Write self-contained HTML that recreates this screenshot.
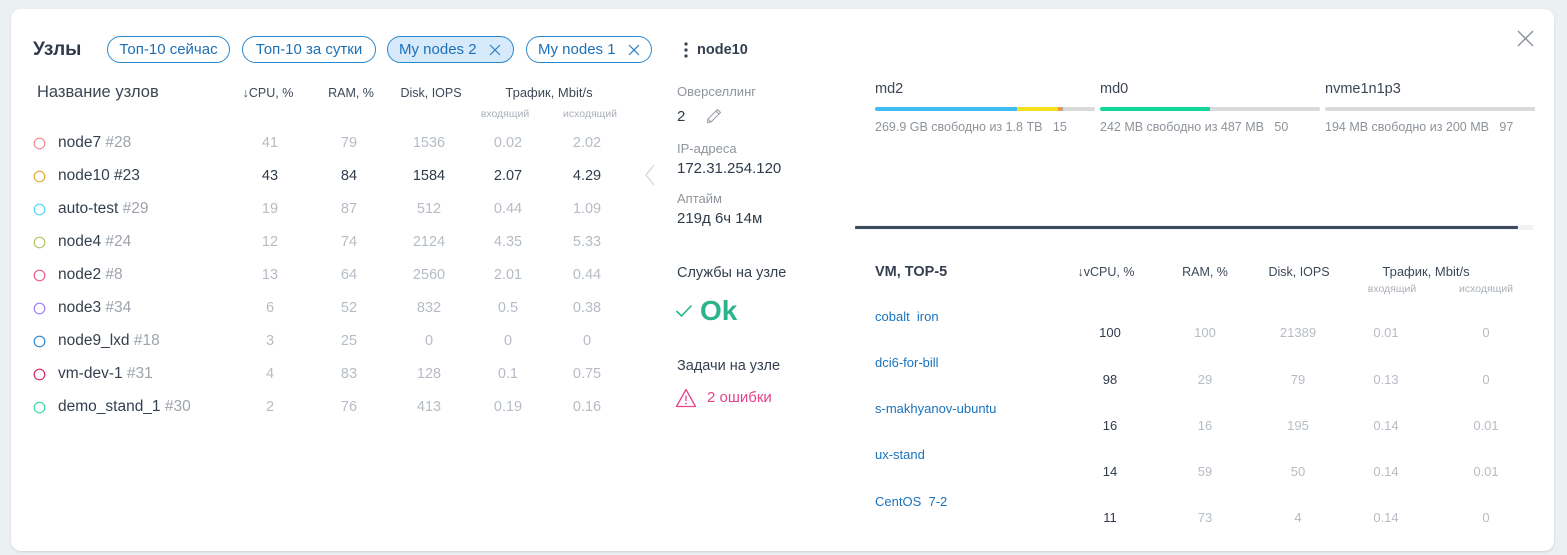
<!DOCTYPE html>
<html><head><meta charset="utf-8">
<style>
html,body{margin:0;padding:0;}
body{width:1567px;height:555px;background:#ebf0f3;position:relative;overflow:hidden;font-family:"Liberation Sans","DejaVu Sans",sans-serif;color:#323f4e;}
.card{position:absolute;left:11px;top:9px;width:1543px;height:542px;background:#fff;border-radius:10px;box-shadow:0 1px 2px rgba(0,0,0,0.13);}
.t{position:absolute;white-space:nowrap;line-height:20px;height:20px;}
.v{position:absolute;white-space:nowrap;line-height:20px;height:20px;width:80px;text-align:center;font-size:14.5px;color:#b6bcc5;}
.nm{font-size:15.5px;color:#34404f;left:58px;}
.nm span{color:#9ea4ac;}
.h{font-size:12.5px;color:#3d4958;}
.sub{font-size:10.5px;color:#aab0b8;}
.chip{position:absolute;top:36px;height:25px;border:1.3px solid #2a88cc;border-radius:14px;color:#1c70b6;font-size:15px;line-height:25px;white-space:nowrap;}
.lbl{font-size:13px;color:#8f959c;left:677px;}
.val{font-size:15px;color:#2f3b4a;left:677px;}
.dn{font-size:14.5px;color:#3a4654;}
.ds{font-size:12.5px;color:#8e949b;}
.bar{position:absolute;height:4px;top:107px;border-radius:2px;background:#dadada;overflow:hidden;}
.bar i{position:absolute;top:0;height:4px;display:block;}
.vn{font-size:13px;color:#1a73bd;left:875px;}
.vv{position:absolute;white-space:nowrap;line-height:20px;height:20px;width:80px;text-align:center;font-size:13px;color:#b6bcc5;}
.v.d,.vv.d{color:#2f3b4a;}
</style></head>
<body>
<div class="card"></div>

<!-- header -->
<div class="t" style="left:33px;top:39px;line-height:22px;height:22px;font-size:19px;font-weight:bold;color:#2f3b4a;">Узлы</div>
<div class="chip" style="left:107px;width:121px;text-align:center;">Топ-10 сейчас</div>
<div class="chip" style="left:242px;width:132px;text-align:center;">Топ-10 за сутки</div>
<div class="chip" style="left:387px;width:125px;background:#d6eafb;"><span style="position:absolute;left:11px;">My nodes 2</span>
<svg style="position:absolute;left:101px;top:7px" width="12" height="12" viewBox="0 0 12 12"><path d="M1 1L11 11M11 1L1 11" stroke="#2a7fc2" stroke-width="1.2"/></svg></div>
<div class="chip" style="left:526px;width:124px;"><span style="position:absolute;left:11px;">My nodes 1</span>
<svg style="position:absolute;left:101px;top:7px" width="12" height="12" viewBox="0 0 12 12"><path d="M1 1L11 11M11 1L1 11" stroke="#2a7fc2" stroke-width="1.2"/></svg></div>

<!-- left table headers -->
<div class="t" style="left:37px;top:82px;font-size:16.5px;color:#3a4654;">Название узлов</div>
<div class="t h" style="left:218px;top:83px;width:100px;text-align:center;">↓CPU, %</div>
<div class="t h" style="left:301px;top:83px;width:100px;text-align:center;">RAM, %</div>
<div class="t h" style="left:381px;top:83px;width:100px;text-align:center;">Disk, IOPS</div>
<div class="t h" style="left:489px;top:83px;width:120px;text-align:center;font-size:13px;">Трафик, Mbit/s</div>
<div class="t sub" style="left:465px;top:104px;width:80px;text-align:center;">входящий</div>
<div class="t sub" style="left:550px;top:104px;width:80px;text-align:center;">исходящий</div>

<!-- circles -->
<svg style="position:absolute;left:0;top:0" width="60" height="420">
<g fill="none" stroke-width="1.2">
<circle cx="39.5" cy="143.5" r="5.3" stroke="#f08a8f"/>
<circle cx="39.5" cy="176.5" r="5.3" stroke="#e2aa34"/>
<circle cx="39.5" cy="209.5" r="5.3" stroke="#4fdaf2"/>
<circle cx="39.5" cy="242.5" r="5.3" stroke="#b3c35e"/>
<circle cx="39.5" cy="275.5" r="5.3" stroke="#ec5a8e"/>
<circle cx="39.5" cy="308.5" r="5.3" stroke="#a07ff5"/>
<circle cx="39.5" cy="341.5" r="5.3" stroke="#2a8ad4"/>
<circle cx="39.5" cy="374.5" r="5.3" stroke="#d22a62"/>
<circle cx="39.5" cy="407.5" r="5.3" stroke="#36d8a4"/>
</g></svg>

<!-- rows -->
<div class="t nm" style="top:133px;">node7 <span>#28</span></div>
<div class="v" style="left:230px;top:133px;">41</div><div class="v" style="left:309px;top:133px;">79</div><div class="v" style="left:389px;top:133px;">1536</div><div class="v" style="left:468px;top:133px;">0.02</div><div class="v" style="left:547px;top:133px;">2.02</div>

<div class="t nm" style="top:166px;">node10 <span style="color:#34404f">#23</span></div>
<div class="v d" style="left:230px;top:166px;">43</div><div class="v d" style="left:309px;top:166px;">84</div><div class="v d" style="left:389px;top:166px;">1584</div><div class="v d" style="left:468px;top:166px;">2.07</div><div class="v d" style="left:547px;top:166px;">4.29</div>

<div class="t nm" style="top:199px;">auto-test <span>#29</span></div>
<div class="v" style="left:230px;top:199px;">19</div><div class="v" style="left:309px;top:199px;">87</div><div class="v" style="left:389px;top:199px;">512</div><div class="v" style="left:468px;top:199px;">0.44</div><div class="v" style="left:547px;top:199px;">1.09</div>

<div class="t nm" style="top:232px;">node4 <span>#24</span></div>
<div class="v" style="left:230px;top:232px;">12</div><div class="v" style="left:309px;top:232px;">74</div><div class="v" style="left:389px;top:232px;">2124</div><div class="v" style="left:468px;top:232px;">4.35</div><div class="v" style="left:547px;top:232px;">5.33</div>

<div class="t nm" style="top:265px;">node2 <span>#8</span></div>
<div class="v" style="left:230px;top:265px;">13</div><div class="v" style="left:309px;top:265px;">64</div><div class="v" style="left:389px;top:265px;">2560</div><div class="v" style="left:468px;top:265px;">2.01</div><div class="v" style="left:547px;top:265px;">0.44</div>

<div class="t nm" style="top:298px;">node3 <span>#34</span></div>
<div class="v" style="left:230px;top:298px;">6</div><div class="v" style="left:309px;top:298px;">52</div><div class="v" style="left:389px;top:298px;">832</div><div class="v" style="left:468px;top:298px;">0.5</div><div class="v" style="left:547px;top:298px;">0.38</div>

<div class="t nm" style="top:331px;">node9_lxd <span>#18</span></div>
<div class="v" style="left:230px;top:331px;">3</div><div class="v" style="left:309px;top:331px;">25</div><div class="v" style="left:389px;top:331px;">0</div><div class="v" style="left:468px;top:331px;">0</div><div class="v" style="left:547px;top:331px;">0</div>

<div class="t nm" style="top:364px;">vm-dev-1 <span>#31</span></div>
<div class="v" style="left:230px;top:364px;">4</div><div class="v" style="left:309px;top:364px;">83</div><div class="v" style="left:389px;top:364px;">128</div><div class="v" style="left:468px;top:364px;">0.1</div><div class="v" style="left:547px;top:364px;">0.75</div>

<div class="t nm" style="top:397px;">demo_stand_1 <span>#30</span></div>
<div class="v" style="left:230px;top:397px;">2</div><div class="v" style="left:309px;top:397px;">76</div><div class="v" style="left:389px;top:397px;">413</div><div class="v" style="left:468px;top:397px;">0.19</div><div class="v" style="left:547px;top:397px;">0.16</div>

<!-- chevron -->
<svg style="position:absolute;left:643px;top:164px" width="14" height="22" viewBox="0 0 14 22"><path d="M11 1L3 11L11 21" fill="none" stroke="#d3d7dc" stroke-width="1.3"/></svg>

<!-- middle panel -->
<svg style="position:absolute;left:683px;top:41px" width="6" height="18"><circle cx="3" cy="3" r="1.6" fill="#34404f"/><circle cx="3" cy="9" r="1.6" fill="#34404f"/><circle cx="3" cy="15" r="1.6" fill="#34404f"/></svg>
<div class="t" style="left:697px;top:40px;font-size:14.5px;font-weight:bold;color:#34404f;">node10</div>

<div class="t lbl" style="top:82px;">Оверселлинг</div>
<div class="t val" style="top:107px;">2</div>
<svg style="position:absolute;left:706px;top:108px" width="16" height="16" viewBox="0 0 16 16"><g fill="none" stroke="#9aa0a7" stroke-width="1.1"><path d="M11.5 1.5L14.5 4.5L5 14L1.5 14.5L2 11Z"/><path d="M10 3L13 6"/><path d="M2 11L5 14"/></g></svg>
<div class="t lbl" style="top:139px;">IP-адреса</div>
<div class="t val" style="top:159px;">172.31.254.120</div>
<div class="t lbl" style="top:189px;">Аптайм</div>
<div class="t val" style="top:209px;">219д 6ч 14м</div>

<div class="t" style="left:677px;top:263px;font-size:14.5px;color:#34404f;">Службы на узле</div>
<svg style="position:absolute;left:675px;top:304px" width="18" height="14" viewBox="0 0 18 14"><path d="M1.5 7L6.5 12L16.5 1.5" fill="none" stroke="#2bb48a" stroke-width="1.6"/></svg>
<div class="t" style="left:700px;top:296px;height:30px;line-height:30px;font-size:28px;font-weight:bold;color:#2bb48a;">Ok</div>

<div class="t" style="left:677px;top:356px;font-size:14.5px;color:#34404f;">Задачи на узле</div>
<svg style="position:absolute;left:675px;top:388px" width="22" height="20" viewBox="0 0 22 20"><g fill="none" stroke="#e2458a" stroke-width="1.3"><path d="M11 1.5L20.5 18.5H1.5Z" stroke-linejoin="round"/><path d="M11 7.5V13"/></g><circle cx="11" cy="15.5" r="0.9" fill="#e2458a"/></svg>
<div class="t" style="left:707px;top:388px;font-size:15px;color:#e2458a;">2 ошибки</div>

<!-- disks -->
<div class="t dn" style="left:875px;top:79px;">md2</div>
<div class="bar" style="left:875px;width:220px;"><i style="left:0;width:142px;background:#40bdf6;"></i><i style="left:142px;width:41px;background:#f3e11e;"></i><i style="left:183px;width:3px;background:#f29a3e;"></i><i style="left:186px;width:2px;background:#a8a8a8;"></i></div>
<div class="t ds" style="left:875px;top:117px;">269.9 GB свободно из 1.8 TB&nbsp;&nbsp;&nbsp;15</div>

<div class="t dn" style="left:1100px;top:79px;">md0</div>
<div class="bar" style="left:1100px;width:220px;"><i style="left:0;width:110px;background:#12d69a;"></i></div>
<div class="t ds" style="left:1100px;top:117px;">242 MB свободно из 487 MB&nbsp;&nbsp;&nbsp;50</div>

<div class="t dn" style="left:1325px;top:79px;">nvme1n1p3</div>
<div class="bar" style="left:1325px;width:210px;border-radius:2px 0 0 2px;"></div>
<div class="t ds" style="left:1325px;top:117px;">194 MB свободно из 200 MB&nbsp;&nbsp;&nbsp;97</div>

<!-- scrollbar -->
<div style="position:absolute;left:855px;top:225px;width:678px;height:5px;background:#f0f2f4;"></div>
<div style="position:absolute;left:855px;top:226px;width:663px;height:3px;background:#3b4a5c;border-radius:1px;"></div>

<!-- VM table -->
<div class="t" style="left:875px;top:262px;font-size:14.5px;font-weight:bold;color:#34404f;">VM, TOP-5</div>
<div class="t h" style="left:1056px;top:262px;width:100px;text-align:center;">↓vCPU, %</div>
<div class="t h" style="left:1155px;top:262px;width:100px;text-align:center;">RAM, %</div>
<div class="t h" style="left:1249px;top:262px;width:100px;text-align:center;">Disk, IOPS</div>
<div class="t h" style="left:1366px;top:262px;width:120px;text-align:center;font-size:13px;">Трафик, Mbit/s</div>
<div class="t sub" style="left:1352px;top:279px;width:80px;text-align:center;">входящий</div>
<div class="t sub" style="left:1446px;top:279px;width:80px;text-align:center;">исходящий</div>

<div class="t vn" style="top:307px;">cobalt&nbsp;&nbsp;iron</div>
<div class="vv d" style="left:1070px;top:323px;">100</div><div class="vv" style="left:1165px;top:323px;">100</div><div class="vv" style="left:1258px;top:323px;">21389</div><div class="vv" style="left:1346px;top:323px;">0.01</div><div class="vv" style="left:1446px;top:323px;">0</div>

<div class="t vn" style="top:353px;">dci6-for-bill</div>
<div class="vv d" style="left:1070px;top:370px;">98</div><div class="vv" style="left:1165px;top:370px;">29</div><div class="vv" style="left:1258px;top:370px;">79</div><div class="vv" style="left:1346px;top:370px;">0.13</div><div class="vv" style="left:1446px;top:370px;">0</div>

<div class="t vn" style="top:399px;">s-makhyanov-ubuntu</div>
<div class="vv d" style="left:1070px;top:416px;">16</div><div class="vv" style="left:1165px;top:416px;">16</div><div class="vv" style="left:1258px;top:416px;">195</div><div class="vv" style="left:1346px;top:416px;">0.14</div><div class="vv" style="left:1446px;top:416px;">0.01</div>

<div class="t vn" style="top:445px;">ux-stand</div>
<div class="vv d" style="left:1070px;top:462px;">14</div><div class="vv" style="left:1165px;top:462px;">59</div><div class="vv" style="left:1258px;top:462px;">50</div><div class="vv" style="left:1346px;top:462px;">0.14</div><div class="vv" style="left:1446px;top:462px;">0.01</div>

<div class="t vn" style="top:492px;">CentOS&nbsp;&nbsp;7-2</div>
<div class="vv d" style="left:1070px;top:508px;">11</div><div class="vv" style="left:1165px;top:508px;">73</div><div class="vv" style="left:1258px;top:508px;">4</div><div class="vv" style="left:1346px;top:508px;">0.14</div><div class="vv" style="left:1446px;top:508px;">0</div>

<!-- close -->
<svg style="position:absolute;left:1517px;top:30px" width="17" height="17" viewBox="0 0 17 17"><path d="M1 1L16 16M16 1L1 16" stroke="#8a9097" stroke-width="1.4"/></svg>
</body></html>
